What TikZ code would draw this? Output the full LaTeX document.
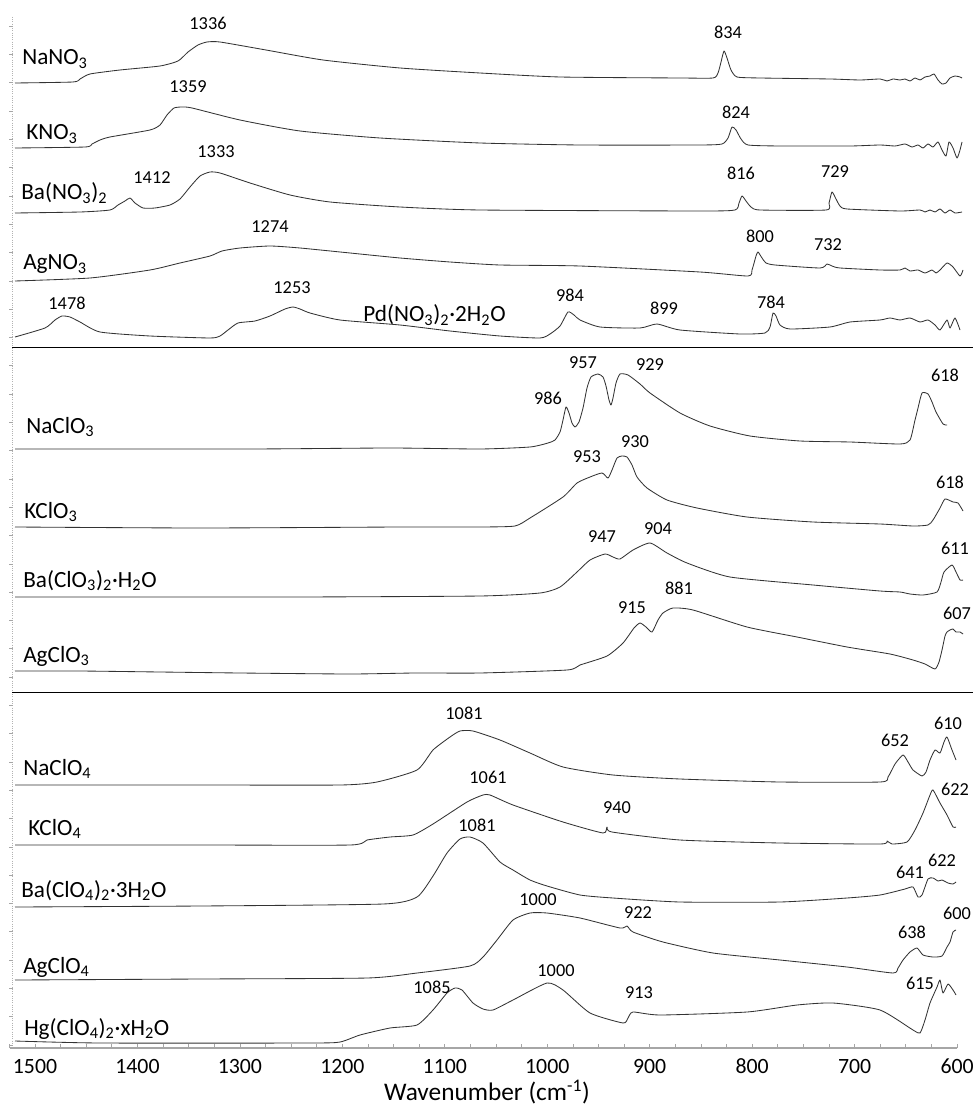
\documentclass[tikz,border=0pt]{standalone}
\usepackage{fontspec}
\setmainfont{Carlito}
\newcommand{\sbs}[1]{\textsubscript{#1}}
\begin{document}
\begin{tikzpicture}[x=0.025cm,y=-0.025cm,
 spec/.style={line width=0.6pt, draw=black!80, line join=round},
 cmp/.style={anchor=base west, inner sep=0pt, font=\fontsize{16.5}{18}\selectfont},
 pk/.style={inner sep=0pt, font=\fontsize{13}{14}\selectfont},
 tl/.style={inner sep=0pt, font=\fontsize{15.5}{17}\selectfont},
 sepline/.style={line width=0.7pt, draw=black}]
\useasboundingbox (0,0) rectangle (975,1108);
\fill[white] (0,0) rectangle (975,1108);
% axes
\draw[gray!60, line width=0.6pt, densely dotted] (12,17) -- (12,1048);
\foreach \k in {0,...,36} \draw[gray!70, line width=0.5pt] (9,{1045-28.3*\k}) -- (13,{1045-28.3*\k});
\draw[gray!70, line width=1pt] (10,1048) -- (957,1048);
\foreach \w in {600,625,...,1525} \draw[gray!70, line width=0.5pt] ({35+(1500-\w)*1.0245},1048) -- ++(0,-4);
\foreach \w in {1500,1400,...,600} \node[tl] (t\w) at ({35+(1500-\w)*1.0245},1066) {\w};
\node[inner sep=0pt, anchor=base, font=\fontsize{18}{20}\selectfont] (xlab) at (487,1100) {Wavenumber (cm\textsuperscript{-1})};
% separators
\draw[sepline] (12,347) -- (973,347);
\draw[sepline] (12,692) -- (973,692);

% ---------- nitrates ----------
\draw[spec] plot[smooth,tension=0.35] coordinates {(15,83) (73,82) (80,79) (90,74) (120,70) (160,66) (178,61) (188,52) (198,45) (207,42) (220,42) (266,50) (323,60) (400,68) (480,73) (560,77) (680,78) (713,78) (718,73) (721,62) (724,51) (727,58) (731,70) (737,77) (760,78) (830,79) (860,80) (880,79) (887,81) (893,79) (900,80) (905,79) (910,81) (915,78) (920,80) (925,77) (930,76) (934,74) (938,80) (942,84) (946,83) (950,78) (955,76) (960,77) (962,78)};
\draw[spec] plot[smooth,tension=0.35] coordinates {(15,148) (85,147) (92,144) (100,140) (110,137) (150,130) (160,125) (167,115) (174,108) (182,107) (192,108) (240,120) (300,131) (380,138) (480,143) (580,145) (700,145) (722,144) (728,138) (732,127) (736,130) (741,139) (748,145) (780,146) (850,146) (880,145) (895,146) (905,144) (912,147) (918,145) (923,148) (928,144) (933,147) (938,142) (942,150) (946,156) (949,142) (953,148) (957,158) (960,150) (962,142)};
\draw[spec] plot[smooth,tension=0.35] coordinates {(15,213) (80,212) (110,210) (118,205) (125,201) (130,198) (135,203) (143,208) (155,208) (170,205) (180,199) (190,187) (200,176) (210,172) (220,173) (250,183) (290,195) (330,202) (400,207) (480,210) (700,211) (735,210) (739,203) (742,196) (746,201) (751,207) (760,210) (826,210) (829,203) (832,192) (836,199) (840,206) (847,209) (900,211) (920,210) (925,212) (930,210) (935,212) (940,209) (945,213) (950,210) (955,213) (962,212)};
\draw[spec] plot[smooth,tension=0.35] coordinates {(15,281) (90,278) (150,270) (180,263) (210,256) (222,251) (240,248) (270,246) (300,248) (350,253) (400,258) (450,262) (500,265) (580,266) (700,272) (748,276) (752,270) (756,256) (758,252) (762,258) (766,263) (775,265) (820,268) (827,264) (832,266) (840,268) (880,270) (900,270) (905,268) (910,271) (918,270) (925,273) (932,270) (936,273) (940,270) (947,263) (953,267) (960,276) (963,270)};
\draw[spec] plot[smooth,tension=0.35] coordinates {(15,337) (45,328) (55,320) (62,316) (70,317) (80,322) (100,332) (150,336) (210,338) (220,336) (228,330) (238,323) (255,321) (270,316) (285,309) (293,307) (300,309) (310,313) (340,320) (400,325) (450,331) (500,336) (540,338) (550,334) (560,326) (568,312) (574,315) (580,320) (600,327) (640,328) (657,324) (680,330) (740,334) (765,333) (770,327) (773,313) (776,316) (780,325) (790,329) (830,327) (850,322) (880,320) (890,318) (900,320) (910,318) (920,322) (928,320) (935,325) (940,330) (947,320) (950,328) (955,318) (960,330)};

\node[cmp] (nano3) at (22,65) {NaNO\sbs{3}};
\node[cmp] (kno3) at (26,140) {KNO\sbs{3}};
\node[cmp] (bano3) at (21,200) {Ba(NO\sbs{3})\sbs{2}};
\node[cmp] (agno3) at (23,270) {AgNO\sbs{3}};
\node[cmp] (pdno3) at (363,322) {Pd(NO\sbs{3})\sbs{2}·2H\sbs{2}O};
\node[pk] (p1336) at (208,23) {1336};
\node[pk] (p834) at (728,32) {834};
\node[pk] (p1359) at (188,87) {1359};
\node[pk] (p824) at (736,112) {824};
\node[pk] (p1412) at (152,178) {1412};
\node[pk] (p1333) at (216,152) {1333};
\node[pk] (p816) at (741,173) {816};
\node[pk] (p729) at (835,172) {729};
\node[pk] (p1274) at (270,227) {1274};
\node[pk] (p800) at (760,236) {800};
\node[pk] (p732) at (828,245) {732};
\node[pk] (p1478) at (67,303) {1478};
\node[pk] (p1253) at (292,288) {1253};
\node[pk] (p984) at (570,295) {984};
\node[pk] (p899) at (664,308) {899};
\node[pk] (p784) at (771,302) {784};

% ---------- chlorates ----------
\draw[spec] plot[smooth,tension=0.35] coordinates {(15,449) (250,449) (390,448) (480,449) (530,447) (548,443) (555,440) (560,432) (563,420) (566,407) (569,413) (572,423) (575,427) (579,422) (583,408) (587,388) (591,377) (598,374) (603,377) (606,386) (609,400) (611,405) (613,398) (616,383) (620,374) (628,375) (640,384) (650,393) (680,413) (710,426) (750,436) (800,441) (850,442) (900,444) (910,440) (915,420) (918,408) (922,393) (928,394) (932,402) (936,412) (943,424) (947,425)};
\draw[spec] plot[smooth,tension=0.35] coordinates {(15,527) (200,528) (400,527) (480,527) (515,526) (530,518) (563,497) (577,483) (590,477) (602,473) (608,478) (612,470) (617,458) (622,456) (627,457) (632,465) (637,477) (647,488) (667,500) (697,508) (747,517) (813,522) (880,524) (913,526) (928,525) (933,520) (940,508) (945,499) (953,502) (958,503) (963,511)};
\draw[spec] plot[smooth,tension=0.35] coordinates {(15,597) (160,597) (300,597) (480,596) (540,593) (560,587) (577,572) (590,560) (605,554) (613,557) (620,559) (633,550) (650,543) (667,553) (687,563) (730,577) (813,585) (880,591) (900,592) (910,594) (923,595) (937,592) (941,582) (944,572) (952,565) (956,572) (960,580) (963,580)};
\draw[spec] plot[smooth,tension=0.35] coordinates {(15,671) (80,671) (160,672) (240,673) (350,674) (415,673) (480,673) (567,670) (580,665) (607,656) (623,643) (634,628) (640,623) (646,627) (652,632) (658,620) (663,613) (673,608) (693,610) (747,627) (797,637) (847,647) (890,654) (913,660) (925,664) (935,669) (939,662) (942,650) (945,636) (947,632) (950,630) (953,629) (956,632) (960,632) (963,634)};

\node[cmp] (naclo3) at (26,433) {NaClO\sbs{3}};
\node[cmp] (kclo3) at (24,518) {KClO\sbs{3}};
\node[cmp] (baclo3) at (23,587) {Ba(ClO\sbs{3})\sbs{2}·H\sbs{2}O};
\node[cmp] (agclo3) at (23,662) {AgClO\sbs{3}};
\node[pk] (p986) at (548,398) {986};
\node[pk] (p957) at (583,363) {957};
\node[pk] (p929) at (650,365) {929};
\node[pk] (p618a) at (945,375) {618};
\node[pk] (p930) at (635,442) {930};
\node[pk] (p953) at (587,457) {953};
\node[pk] (p618b) at (950,482) {618};
\node[pk] (p947) at (602,537) {947};
\node[pk] (p904) at (658,529) {904};
\node[pk] (p611) at (955,548) {611};
\node[pk] (p881) at (679,588) {881};
\node[pk] (p915) at (632,608) {915};
\node[pk] (p607) at (957,613) {607};

% ---------- perchlorates ----------
\draw[spec] plot[smooth,tension=0.35] coordinates {(15,785) (200,785) (340,785) (377,782) (417,770) (433,750) (450,737) (460,731) (473,731) (500,740) (530,753) (563,767) (613,775) (680,779) (780,782) (880,782) (888,777) (895,764) (903,755) (908,762) (913,770) (922,776) (926,772) (930,760) (935,750) (940,753) (944,742) (947,737) (952,750) (956,760)};
\draw[spec] plot[smooth,tension=0.35] coordinates {(15,845) (200,845) (350,845) (367,840) (390,837) (413,835) (433,824) (467,802) (483,795) (490,795) (513,805) (563,822) (603,833) (607,827) (612,832) (680,840) (780,843) (880,844) (887,841) (892,844) (907,842) (915,830) (923,813) (930,795) (933,790) (940,803) (947,815) (953,827) (956,827)};
\draw[spec] plot[smooth,tension=0.35] coordinates {(15,907) (200,906) (383,904) (417,897) (433,876) (447,853) (460,839) (470,837) (483,843) (500,862) (513,870) (530,880) (547,886) (580,895) (613,898) (680,902) (780,902) (847,898) (880,895) (905,889) (913,887) (918,897) (922,895) (928,879) (933,878) (938,881) (942,880) (948,883) (953,884) (956,882)};
\draw[spec] plot[smooth,tension=0.35] coordinates {(15,980) (200,979) (367,978) (417,973) (470,966) (483,957) (497,940) (513,920) (530,913) (547,913) (580,918) (620,928) (627,926) (633,932) (663,942) (713,953) (780,960) (847,967) (893,973) (898,968) (903,960) (910,952) (917,948) (923,955) (933,957) (942,956) (947,947) (950,942) (953,932) (956,930)};
\draw[spec] plot[smooth,tension=0.35] coordinates {(15,1041) (100,1043) (310,1043) (340,1042) (360,1035) (390,1028) (417,1025) (433,1010) (447,993) (455,988) (462,990) (473,1003) (483,1009) (493,1010) (513,1000) (547,983) (563,990) (590,1013) (623,1023) (628,1018) (633,1012) (660,1015) (747,1012) (797,1005) (833,1003) (880,1010) (913,1030) (920,1033) (925,1020) (930,1003) (937,987) (940,980) (943,993) (948,984) (953,990) (956,995)};

\node[cmp] (naclo4) at (23,775) {NaClO\sbs{4}};
\node[cmp] (kclo4) at (28,835) {KClO\sbs{4}};
\node[cmp] (baclo4) at (21,897) {Ba(ClO\sbs{4})\sbs{2}·3H\sbs{2}O};
\node[cmp] (agclo4) at (23,973) {AgClO\sbs{4}};
\node[cmp] (hgclo4) at (24,1035) {Hg(ClO\sbs{4})\sbs{2}·xH\sbs{2}O};
\node[pk] (p1081a) at (464,713) {1081};
\node[pk] (p652) at (895,740) {652};
\node[pk] (p610) at (948,723) {610};
\node[pk] (p1061) at (488,777) {1061};
\node[pk] (p940) at (617,808) {940};
\node[pk] (p622a) at (955,789) {622};
\node[pk] (p1081b) at (477,825) {1081};
\node[pk] (p641) at (910,872) {641};
\node[pk] (p622b) at (942,860) {622};
\node[pk] (p1000a) at (538,900) {1000};
\node[pk] (p922) at (638,913) {922};
\node[pk] (p638) at (912,932) {638};
\node[pk] (p600) at (957,913) {600};
\node[pk] (p1085) at (432,987) {1085};
\node[pk] (p1000b) at (556,971) {1000};
\node[pk] (p913) at (639,993) {913};
\node[pk] (p615) at (920,983) {615};
\end{tikzpicture}
\end{document}
